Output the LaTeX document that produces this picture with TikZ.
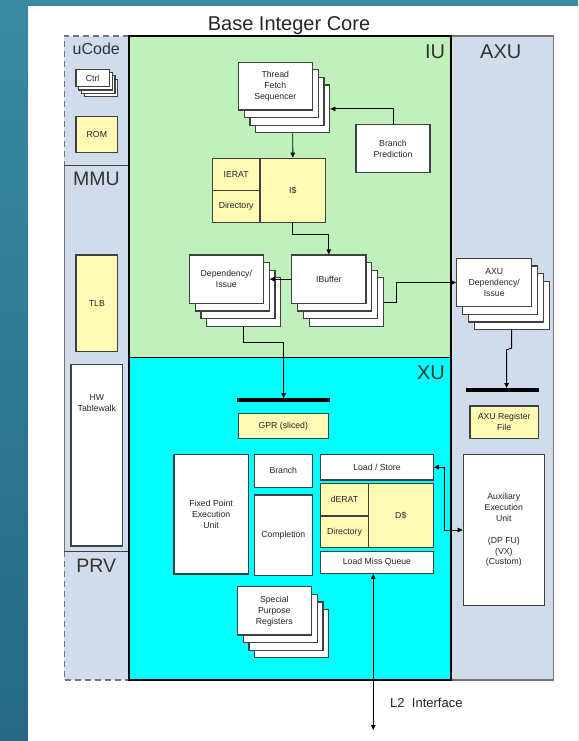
\documentclass[tikz,border=0pt]{standalone}
\usepackage{fontspec}
\setmainfont{Liberation Sans}
\usetikzlibrary{arrows.meta,calc}
\definecolor{iugreen}{RGB}{192,240,188}
\definecolor{xucyan}{RGB}{0,255,255}
\definecolor{sideblue}{RGB}{208,220,236}
\definecolor{ybox}{RGB}{255,250,180}
\definecolor{bline}{RGB}{64,64,64}
\definecolor{sline}{RGB}{115,115,115}
\definecolor{tealA}{RGB}{58,138,163}
\definecolor{tealB}{RGB}{36,104,134}
% box from corners: style, name, x1, y1, x2, y2, text
\newcommand\bx[7]{%
  \node[#1, minimum width={((#5)-(#3))*1pt}, minimum height={((#6)-(#4))*1pt}]
    (#2) at ({((#3)+(#5))/2},{((#4)+(#6))/2}) {#7};}
% stacked boxes: name, x1, y1, x2, y2, text, dx, dy
\newcommand\stk[8]{%
  \bx{wbox}{#1c}{#2+3*#7}{#3+3*#8}{#4+3*#7}{#5+3*#8}{}%
  \bx{wbox}{#1b}{#2+2*#7}{#3+2*#8}{#4+2*#7}{#5+2*#8}{}%
  \bx{wbox}{#1a}{#2+#7}{#3+#8}{#4+#7}{#5+#8}{}%
  \bx{wbox}{#1}{#2}{#3}{#4}{#5}{#6}}
\begin{document}
\begin{tikzpicture}[x=1pt,y=-1pt,
  small/.style={font=\fontsize{8.7}{10.9}\selectfont, text=black!85, align=center},
  wbox/.style={small, draw=bline, line width=1.2pt, fill=white, inner sep=0pt},
  ybx/.style={wbox, fill=ybox},
  big/.style={font=\fontsize{20}{24}\selectfont, text=black!80, inner sep=0pt},
  arr/.style={draw=black, line width=0.9pt, -{Triangle[length=5pt,width=4.5pt]}},
  arr2/.style={draw=black, line width=0.9pt, {Triangle[length=5pt,width=4.5pt]}-{Triangle[length=5pt,width=4.5pt]}},
  bar/.style={fill=black, inner sep=0pt, minimum height=3.5pt},
]
\useasboundingbox (0,0) rectangle (578,741);
% background
\shade[top color=tealA, bottom color=tealB] (0,0) rectangle (578,741);
\fill[white] (27.5,6) rectangle (578,741);

% title
\node[font=\fontsize{20}{24}\selectfont, text=black!85, anchor=base] (title) at (289,31) {Base Integer Core};

% left column (uCode / MMU / PRV)
\fill[sideblue] (64.3,36) rectangle (129,680);
\draw[sline, line width=1.3pt, dash pattern=on 6pt off 4pt] (129,36) -- (64.3,36) -- (64.3,165);
\draw[sline, line width=1.3pt, dash pattern=on 6pt off 4pt] (64.3,551) -- (64.3,680) -- (129,680);
\draw[sline, line width=1.3pt] (64.3,165) -- (64.3,551);
\draw[bline, line width=1pt] (64.3,165) -- (129,165) (64.3,551) -- (129,551);

% AXU column
\fill[sideblue] (451,36) rectangle (553.3,680);
\draw[sline, line width=1.3pt] (451,36) -- (553.3,36) -- (553.3,680) -- (451,680);

% IU / XU
\fill[iugreen] (129,36) rectangle (451,357.5);
\fill[xucyan] (129,357.5) rectangle (451,680);
\draw[black, line width=1pt] (129,357.5) -- (451,357.5);
\draw[black, line width=2pt] (129,36) rectangle (451,680);

% big labels
\node[big, font=\fontsize{16}{20}\selectfont] (lucode) at (96.3,49) {uCode};
\node[big, font=\fontsize{19.5}{24}\selectfont] (lmmu) at (96.3,179) {MMU};
\node[big, font=\fontsize{19.5}{24}\selectfont] (lprv) at (96.3,566) {PRV};
\node[big] (liu) at (435,51.7) {IU};
\node[big] (lxu) at (431,373) {XU};
\node[big] (laxu) at (500.8,51.7) {AXU};

% uCode contents
\stk{ctrl}{76}{69.3}{109.3}{86.7}{Ctrl}{2.8}{3.3}
\bx{ybx}{rom}{76}{116.7}{117.7}{152.3}{ROM}
% MMU contents
\bx{ybx}{tlb}{76}{255}{117.7}{351.7}{TLB}
\bx{wbox}{hw}{71}{364.3}{122.7}{546}{}
\node[small, inner sep=0pt] (hwlab) at (96.85,403) {HW\\Tablewalk};

% IU contents
\stk{tfs}{238.3}{62.3}{312.3}{110}{Thread\\Fetch\\Sequencer}{5.8}{7.6}
\bx{wbox}{bp}{356}{124.3}{430}{172.7}{Branch\\Prediction}
\bx{ybx}{ierat}{212.3}{158.3}{260}{190.7}{IERAT}
\bx{ybx}{idir}{212.3}{190.7}{260}{222.7}{Directory}
\bx{ybx}{icache}{260}{158.3}{325.7}{222.7}{I\$}
\stk{ibuf}{291.7}{255}{366}{303.3}{IBuffer}{5.8}{7.6}
\stk{dep}{189.3}{255}{263.3}{303.3}{Dependency/\\Issue}{5.8}{7.6}

% AXU contents
\stk{axd}{456.7}{258.3}{531.7}{306.7}{AXU\\Dependency/\\Issue}{5.8}{7.6}
\node[bar, minimum width=73.3pt] (axbar) at (502.35,390) {};
\bx{ybx}{axrf}{470}{406}{538.3}{438.3}{AXU Register\\File}
\bx{wbox}{aux}{463.3}{454.3}{544.3}{605.7}{Auxiliary\\Execution\\Unit\\[10.9pt](DP FU)\\(VX)\\(Custom)}

% XU contents
\node[bar, minimum width=92.7pt] (gprbar) at (283.65,400) {};
\bx{ybx}{gpr}{238.3}{413.3}{328.3}{438.3}{GPR (sliced)}
\bx{wbox}{fxu}{174}{454.3}{248.3}{574}{Fixed Point\\Execution\\Unit}
\bx{wbox}{br}{254.3}{454.3}{312.3}{487.3}{Branch}
\bx{wbox}{cmp}{254.3}{495}{312.3}{575.7}{Completion}
\bx{wbox}{ls}{320.7}{454.3}{433.3}{480}{Load / Store}
\bx{ybx}{derat}{320.7}{483.3}{368.3}{516}{dERAT}
\bx{ybx}{ddir}{320.7}{516}{368.3}{547.7}{Directory}
\bx{ybx}{dcache}{368.3}{483.3}{433.3}{547.7}{D\$}
\bx{wbox}{lmq}{320.7}{551.7}{433.3}{573.3}{Load Miss Queue}
\stk{spr}{237.3}{586.7}{311.3}{635}{Special\\Purpose\\Registers}{5.8}{7.6}

% connectors
\draw[arr] (bp.north) |- (tfsc.east);
\draw[arr] (tfsc.south) -- (icache.north);
\draw[arr] (icache.south) -- ++(0,11.3) -| (ibuf.north);
\draw[arr] (ibuf.west) -- (ibuf.west -| depa.east);
\draw[arr] (ibufc.east) -- ++(12.3,0) |- (axd.west);
\draw[arr] (depc.south) -- ++(0,15.7) -| (gprbar.north);
\draw[arr] (axdc.south) -- ++(0,18) -- ++(-5,1.7) coordinate (jog) -- (jog |- axbar.north);
\draw[arr2] (aux.west) -- ++(-18.3,0) |- (ls.east);
\coordinate (l2end) at (373.3,730);
\draw[arr2] (lmq.south -| l2end) -- (l2end);
\node[font=\fontsize{13}{15}\selectfont, text=black!85, anchor=west] (l2lab) at (386.7,703) {L2\ \ Interface};
\end{tikzpicture}
\end{document}
